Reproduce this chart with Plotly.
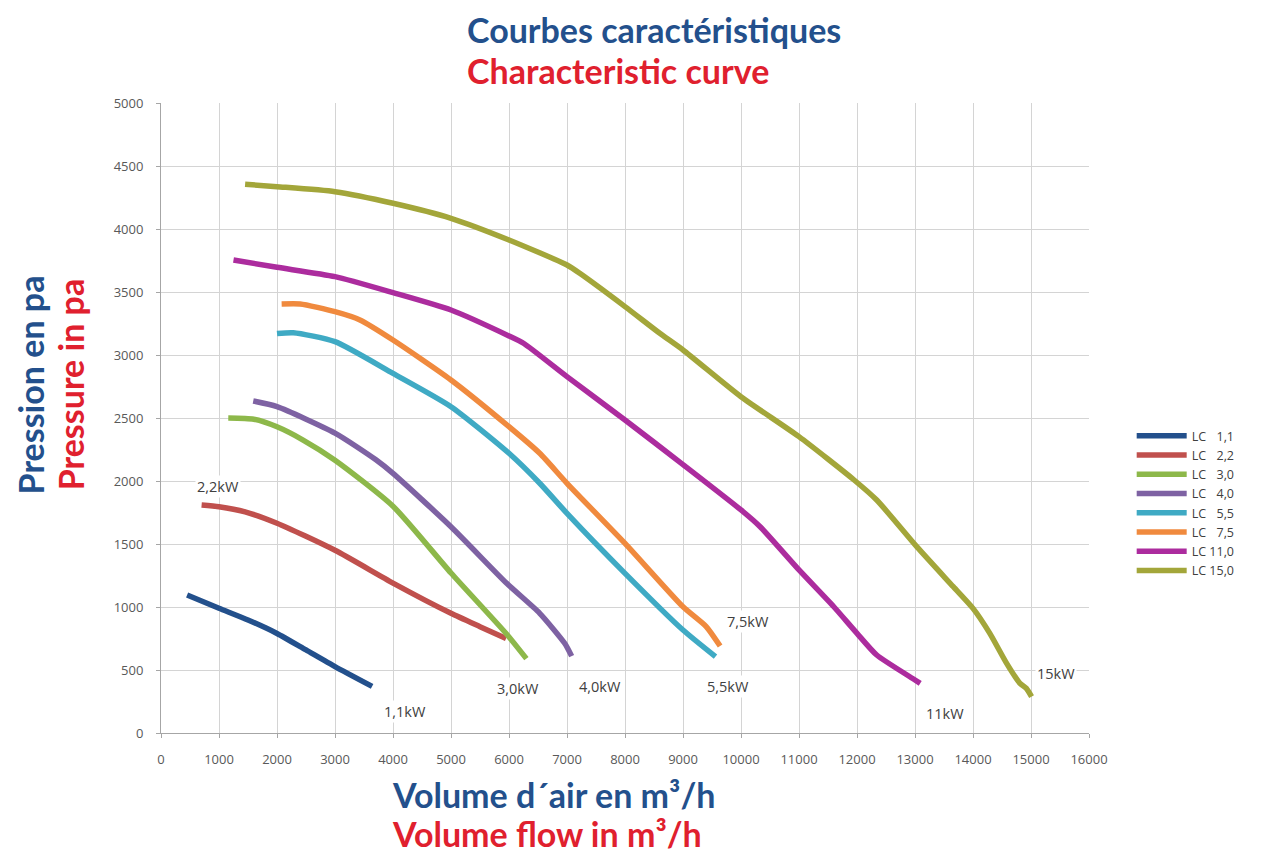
import plotly.graph_objects as go

# ---- data ----
names = ["LC\u2007 1,1", "LC\u2007 2,2", "LC\u2007 3,0", "LC\u2007 4,0",
         "LC\u2007 5,5", "LC\u2007 7,5", "LC 11,0", "LC 15,0"]
colors = ["#23508C", "#C0504D", "#8DB84A", "#7E62A3",
          "#3FAAC4", "#F08A3E", "#AC2C9E", "#A3A63A"]

q_11 = [450, 1000, 1500, 2000, 2500, 3000, 3640]
p_11 = [1095, 990, 897, 790, 659, 527, 370]

q_22 = [700, 1000, 1450, 2000, 3000, 4000, 5000, 5500, 5950]
p_22 = [1810, 1796, 1755, 1665, 1450, 1190, 950, 844, 750]

q_30 = [1160, 1600, 2000, 2450, 3000, 4000, 5000, 5950, 6300]
p_30 = [2500, 2490, 2430, 2325, 2165, 1800, 1270, 790, 590]

q_40 = [1590, 2000, 3000, 3700, 4000, 5000, 5960, 6530, 6960, 7080]
p_40 = [2635, 2590, 2380, 2170, 2060, 1637, 1188, 950, 712, 610]

q_55 = [2000, 2280, 3000, 4000, 5000, 6000, 6530, 7000, 8000, 9000, 9560]
p_55 = [3170, 3177, 3106, 2854, 2590, 2220, 1982, 1743, 1267, 817, 606]

q_75 = [2080, 2400, 3000, 3430, 4000, 5000, 6000, 6530, 7000, 8000, 9000, 9400, 9640]
p_75 = [3405, 3405, 3344, 3278, 3119, 2802, 2431, 2220, 1982, 1505, 1002, 845, 690]

q_110 = [1250, 2000, 3000, 4000, 5000, 6000, 6250, 7000, 8000, 9000, 10000,
         10330, 11000, 11600, 12000, 12340, 13000, 13090]
p_110 = [3754, 3696, 3622, 3495, 3357, 3151, 3093, 2828, 2484, 2130, 1770,
         1637, 1294, 1002, 791, 619, 421, 394]

q_150 = [1450, 2000, 3000, 4000, 5000, 6000, 7000, 7220, 8000, 8600, 9000, 10000,
         11000, 11950, 12340, 13030, 13660, 14000, 14290, 14580, 14810, 14920, 15010]
p_150 = [4355, 4336, 4296, 4204, 4085, 3913, 3714, 3648, 3384, 3172, 3040, 2669,
         2352, 2008, 1849, 1479, 1161, 989, 791, 553, 394, 354, 288]

series_q = [q_11, q_22, q_30, q_40, q_55, q_75, q_110, q_150]
series_p = [p_11, p_22, p_30, p_40, p_55, p_75, p_110, p_150]

label_texts = ["1,1kW", "2,2kW", "3,0kW", "4,0kW", "5,5kW", "7,5kW", "11kW", "15kW"]
label_q = [4207, 983, 6155, 7569, 9776, 10121, 13517, 15431]
label_p = [167, 1960, 357, 373, 373, 881, 151, 476]

x_ticks = list(range(0, 16001, 1000))
x_tick_text = [str(v) for v in x_ticks]
y_ticks = list(range(0, 5001, 500))
y_tick_text = [str(v) for v in y_ticks]

BLUE = "#23508C"
RED = "#E0202E"
TXT_FONT = "Lato"
TSIZE = 34

fig = go.Figure()
for n, c, q, p in zip(names, colors, series_q, series_p):
    fig.add_trace(go.Scatter(x=q, y=p, name=n, mode="lines",
                             line=dict(color=c, width=5.5, shape="spline", smoothing=0.6)))

for t, q, p in zip(label_texts, label_q, label_p):
    fig.add_annotation(x=q, y=p, xref="x", yref="y", text=t, showarrow=False,
                       bgcolor="white", font=dict(family="Open Sans", size=14.5, color="#404040"))

# titles
fig.add_annotation(xref="paper", yref="paper", x=0.3276, y=1.116, xanchor="left", yanchor="middle",
                   text="<b>Courbes caractéristiques</b>", showarrow=False,
                   font=dict(family=TXT_FONT, size=TSIZE, color=BLUE))
fig.add_annotation(xref="paper", yref="paper", x=0.3276, y=1.052, xanchor="left", yanchor="middle",
                   text="<b>Characteristic curve</b>", showarrow=False,
                   font=dict(family=TXT_FONT, size=TSIZE, color=RED))
fig.add_annotation(xref="paper", yref="paper", x=0.2468, y=-0.098, xanchor="left", yanchor="middle",
                   text="<b>Volume d´air en m³/h</b>", showarrow=False,
                   font=dict(family=TXT_FONT, size=TSIZE, color=BLUE))
fig.add_annotation(xref="paper", yref="paper", x=0.2468, y=-0.159, xanchor="left", yanchor="middle",
                   text="<b>Volume flow in m³/h</b>", showarrow=False,
                   font=dict(family=TXT_FONT, size=TSIZE, color=RED))
fig.add_annotation(xref="paper", yref="paper", x=-0.141, y=0.552, xanchor="center", yanchor="middle",
                   text="<b>Pression en pa</b>", showarrow=False, textangle=-90,
                   font=dict(family=TXT_FONT, size=TSIZE, color=BLUE))
fig.add_annotation(xref="paper", yref="paper", x=-0.098, y=0.552, xanchor="center", yanchor="middle",
                   text="<b>Pressure in pa</b>", showarrow=False, textangle=-90,
                   font=dict(family=TXT_FONT, size=TSIZE, color=RED))

fig.update_layout(
    width=1274, height=855,
    margin=dict(l=161, r=185, t=103, b=122),
    paper_bgcolor="white", plot_bgcolor="white",
    showlegend=True,
    legend=dict(x=1.046, y=0.495, xanchor="left", yanchor="top",
                font=dict(family="Open Sans", size=12.5, color="#404040"),
                itemwidth=50,
                tracegroupgap=0, bgcolor="rgba(0,0,0,0)"),
)
fig.update_xaxes(range=[0, 16000], tickvals=x_ticks, ticktext=x_tick_text, showgrid=True,
                 gridcolor="#D4D4D4", gridwidth=1, zeroline=False, showline=True,
                 linecolor="#A6A6A6", ticks="outside", ticklen=4, tickcolor="#A6A6A6",
                 ticklabelstandoff=10,
                 tickfont=dict(family="Open Sans", size=13, color="#595959"))
fig.update_yaxes(range=[0, 5000], tickvals=y_ticks, ticktext=y_tick_text, showgrid=True,
                 gridcolor="#D4D4D4", gridwidth=1, zeroline=False, showline=True,
                 linecolor="#A6A6A6", ticks="outside", ticklen=4, tickcolor="#A6A6A6",
                 ticklabelstandoff=10,
                 tickfont=dict(family="Open Sans", size=13, color="#595959"))

fig.write_html("out.html", config={"displayModeBar": False},
               post_script="document.body.style.margin='0';")
